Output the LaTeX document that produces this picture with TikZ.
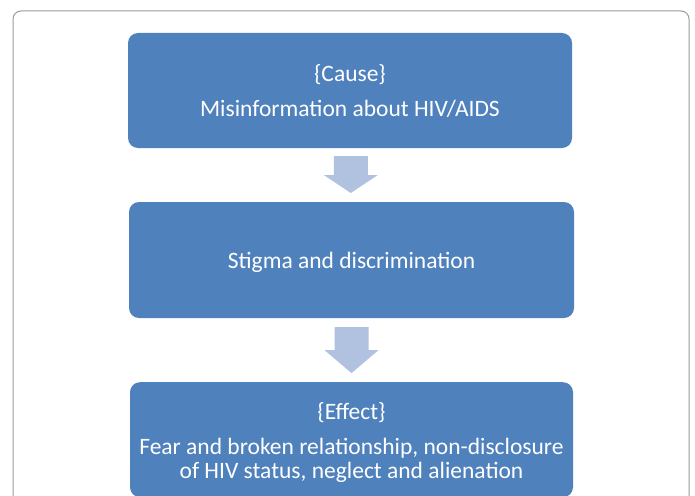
\documentclass[tikz,border=0pt]{standalone}
\usepackage{fontspec}
\setmainfont{Carlito}
\usetikzlibrary{calc}
\definecolor{boxblue}{HTML}{4F81BD}
\definecolor{arrowblue}{HTML}{B0C2DF}
\definecolor{framegray}{HTML}{9A9A9A}
\tikzset{
  stepbox/.style={rectangle, rounded corners=10pt, fill=boxblue, draw=none,
    text=white, align=center, font=\fontsize{23.5}{24}\selectfont, inner sep=0pt},
  downarrow/.style={fill=arrowblue, draw=none}
}
\begin{document}
\begin{tikzpicture}[x=1pt, y=-1pt]
  \useasboundingbox (0,0) rectangle (695,495);
  % outer frame
  \draw[framegray, line width=1pt, rounded corners=8pt] (13,520) -- (13,11) -- (689,11) -- (689,520);

  % the three stages
  \node[stepbox, minimum width=444pt, minimum height=115pt] (cause) at (350,90.5) {};
  \node[stepbox, minimum width=445pt, minimum height=116pt] (stigma) at (351.5,260) {};
  \node[stepbox, minimum width=443pt, minimum height=115pt, anchor=north] (effect) at (351.5,382) {};

  % stage texts, placed by the baseline of their last line
  \node[stepbox, fill=none, anchor=base] (causetxt) at (350,116)
    {\{Cause\}\\[11pt]Misinformation about HIV/AIDS};
  \node[stepbox, fill=none, anchor=base] (stigmatxt) at (351.5,268) {Stigma and discrimination};
  \node[stepbox, fill=none, anchor=base] (effecttxt) at (351.5,478.5)
    {\{Effect\}\\[11pt]Fear and broken relationship, non-disclosure\\of HIV status, neglect and alienation};

  % block arrows between stages
  \path (cause.south) -- (stigma.north) coordinate[pos=0.5] (m1);
  \path (stigma.south) -- (effect.north) coordinate[pos=0.5] (m2);
  \fill[downarrow] ($(m1)+(-17,-19)$) -- ($(m1)+(17,-19)$) -- ($(m1)+(17,0)$) -- ($(m1)+(27,0)$)
    -- ($(m1)+(0,18)$) -- ($(m1)+(-27,0)$) -- ($(m1)+(-17,0)$) -- cycle;
  \fill[downarrow] ($(m2)+(-17,-23)$) -- ($(m2)+(17,-23)$) -- ($(m2)+(17,0)$) -- ($(m2)+(27,0)$)
    -- ($(m2)+(0,23)$) -- ($(m2)+(-27,0)$) -- ($(m2)+(-17,0)$) -- cycle;
\end{tikzpicture}
\end{document}
